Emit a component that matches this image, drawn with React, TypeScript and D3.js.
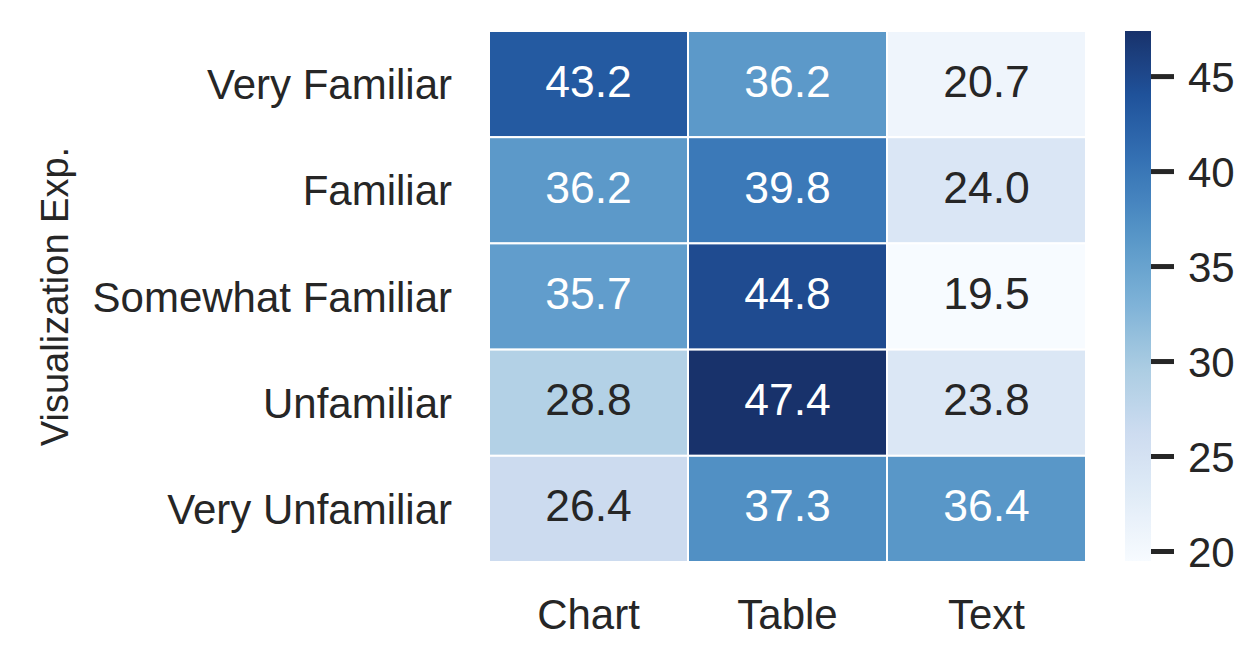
import React from "react";
import * as d3 from "d3";

const rows = ["Very Familiar", "Familiar", "Somewhat Familiar", "Unfamiliar", "Very Unfamiliar"];
const cols = ["Chart", "Table", "Text"];
const chartVals = [43.2, 36.2, 35.7, 28.8, 26.4];
const tableVals = [36.2, 39.8, 44.8, 47.4, 37.3];
const textVals = [20.7, 24.0, 19.5, 23.8, 36.4];
const cbTicks = [20, 25, 30, 35, 40, 45];
const yTitle = "Visualization Exp.";

const blues = ["#f7fbff", "#deebf7", "#c6dbef", "#9ecae1", "#6baed6", "#4292c6", "#2171b5", "#08519c", "#08306b"];

export default function App() {
  const W = 1260, H = 662;
  const left = 489, right = 1086, top = 31, bottom = 562;
  const cbL = 1125, cbR = 1151;
  const series = [chartVals, tableVals, textVals];
  const all = series.flat();
  const vmin = d3.min(all)!, vmax = d3.max(all)!;
  const x = d3.scaleBand().domain(cols).range([left, right]);
  const y = d3.scaleBand().domain(rows).range([top, bottom]);
  const t = d3.scaleLinear().domain([vmin, vmax]).range([0, 1]);
  const cmapRaw = d3.scaleLinear<string>().domain(blues.map((_, i) => i / (blues.length - 1))).range(blues).interpolate(d3.interpolateRgb);
  const cmapPos = (s: number) => {
    s = Math.max(0, Math.min(1, s));
    const c = d3.rgb(cmapRaw(s));
    const hi = s < 0.9 ? 1 : 1 - (s - 0.9) * 3;
    const lo = 0.6 + 0.4 * Math.min(1, s / 0.3);
    const r = c.r + 24 * (1 - c.r / 255) * hi * lo;
    const g = c.g + 3 * (1 - c.g / 255);
    return d3.rgb(r, g, c.b).formatHex();
  };
  const color = (v: number) => cmapPos(t(v));
  const cbY = d3.scaleLinear().domain([vmin, vmax]).range([bottom - 1, top]);
  const lum = (c: string) => {
    const r = d3.rgb(c);
    const f = (u: number) => { u /= 255; return u <= 0.03928 ? u / 12.92 : Math.pow((u + 0.055) / 1.055, 2.4); };
    return 0.2126 * f(r.r) + 0.7152 * f(r.g) + 0.0722 * f(r.b);
  };
  const font = "'Liberation Sans', Arial, sans-serif";
  const dark = "#262626";
  const stops = d3.range(0, 1.0001, 0.04);
  return (
    <svg width={W} height={H} style={{ position: "absolute", left: 0, top: 0 }} fontFamily={font}>
      <rect x={0} y={0} width={W} height={H} fill="#fff" />
      <defs>
        <linearGradient id="cb" x1="0" y1="1" x2="0" y2="0">
          {stops.map((s, i) => (
            <stop key={i} offset={s} stopColor={cmapPos(s)} />
          ))}
        </linearGradient>
      </defs>
      {series.map((vals, ci) =>
        vals.map((v, ri) => {
          const c = color(v);
          return (
            <g key={ci + "-" + ri}>
              <rect x={x(cols[ci])!} y={y(rows[ri])!} width={x.bandwidth()} height={y.bandwidth()} fill={c} stroke="#fff" strokeWidth={2} />
              <text x={x(cols[ci])! + x.bandwidth() / 2} y={y(rows[ri])! + y.bandwidth() / 2 + 12.5} textAnchor="middle" fontSize={44.5} fill={lum(c) > 0.408 ? dark : "#fff"}>
                {v.toFixed(1)}
              </text>
            </g>
          );
        })
      )}
      {rows.map((r) => (
        <text key={r} x={452} y={y(r)! + y.bandwidth() / 2 + 15} textAnchor="end" fontSize={42} fill={dark}>{r}</text>
      ))}
      {cols.map((c) => (
        <text key={c} x={x(c)! + x.bandwidth() / 2} y={629} textAnchor="middle" fontSize={42} fill={dark}>{c}</text>
      ))}
      <text transform={`translate(68,${(top + bottom) / 2}) rotate(-90)`} textAnchor="middle" fontSize={38} fill={dark}>{yTitle}</text>
      <rect x={cbL} y={top} width={cbR - cbL} height={bottom - 1 - top} fill="url(#cb)" />
      {cbTicks.map((v) => (
        <g key={v}>
          <line x1={cbR} x2={cbR + 23} y1={cbY(v)} y2={cbY(v)} stroke={dark} strokeWidth={5} />
          <text x={1188} y={cbY(v) + 15} fontSize={42} fill={dark}>{v}</text>
        </g>
      ))}
    </svg>
  );
}
